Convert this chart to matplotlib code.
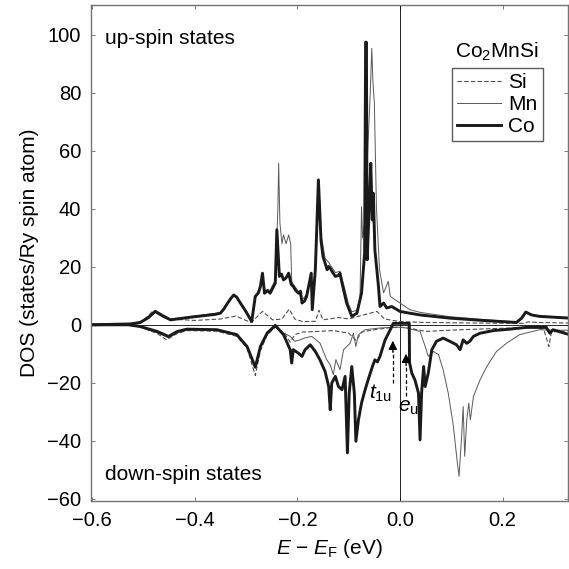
import numpy as np
import matplotlib as mpl
mpl.use('Agg')
from matplotlib import pyplot as plt

#------------------ FONT_setup ----------------------
plt.rcParams['font.family'] = ['Liberation Sans', 'DejaVu Sans']
plt.rcParams['mathtext.fontset'] = 'custom'
plt.rcParams['mathtext.rm'] = 'Liberation Sans'
plt.rcParams['mathtext.it'] = 'Liberation Sans:italic'
fs = 15

#------------------- Data (E - EF in eV, DOS) ----------------------
co_up = [(-0.60, 0), (-0.525, 0.3), (-0.506, 0.8), (-0.490, 2.5), (-0.477, 4.6), (-0.462, 3.0),
         (-0.447, 1.7), (-0.409, 2.6), (-0.380, 3.2), (-0.360, 3.6), (-0.350, 4.0), (-0.343, 5.5),
         (-0.337, 7.2), (-0.330, 9.0), (-0.324, 10.3), (-0.318, 9.5), (-0.315, 8.6), (-0.300, 4.5),
         (-0.289, 1.1), (-0.282, 9.8), (-0.276, 11.0), (-0.272, 13.2), (-0.268, 17.8), (-0.264, 10.9),
         (-0.258, 11.8), (-0.253, 10.9), (-0.243, 14.4), (-0.240, 32.8), (-0.235, 16.7), (-0.231, 17.5),
         (-0.227, 15.5), (-0.222, 16.2), (-0.217, 17.8), (-0.212, 14.0), (-0.208, 13.2), (-0.203, 11.8),
         (-0.198, 10.9), (-0.194, 11.6), (-0.191, 7.5), (-0.186, 8.2), (-0.182, 9.8), (-0.173, 17.8),
         (-0.171, 5.2), (-0.165, 19.0), (-0.159, 50.0), (-0.154, 29.3), (-0.150, 23.5), (-0.146, 21.3),
         (-0.142, 19.0), (-0.139, 20.1), (-0.136, 19.5), (-0.131, 18.0), (-0.126, 16.7), (-0.120, 17.0),
         (-0.117, 17.8), (-0.113, 14.4), (-0.104, 7.5), (-0.094, 2.9), (-0.084, 4.0), (-0.075, 10.9),
         (-0.069, 24.7), (-0.067, 97.5), (-0.0655, 97.5), (-0.064, 22.4), (-0.060, 40.8), (-0.057, 55.7),
         (-0.054, 36.2), (-0.052, 45.4), (-0.049, 25.9), (-0.042, 13.2), (-0.039, 6.3), (-0.032, 7.5),
         (-0.026, 5.8), (-0.016, 6.3), (0.0, 4.6), (0.019, 4.0), (0.039, 3.4), (0.097, 2.3),
         (0.162, 1.5), (0.227, 0.8), (0.237, 2.3), (0.245, 4.4), (0.256, 3.4), (0.272, 2.9),
         (0.33, 2.3)]

mn_up = [(-0.60, 0), (-0.525, 0.3), (-0.506, 1.0), (-0.490, 3.0), (-0.477, 5.0), (-0.462, 3.5),
         (-0.447, 2.0), (-0.409, 2.8), (-0.350, 4.2), (-0.337, 7.4), (-0.324, 10.5), (-0.315, 8.8),
         (-0.300, 4.8), (-0.289, 1.5), (-0.282, 9.0), (-0.272, 13.5), (-0.268, 16.5), (-0.264, 12.0),
         (-0.253, 12.0), (-0.243, 15.5), (-0.238, 40.0), (-0.2365, 55.7), (-0.234, 35.0), (-0.230, 28.0),
         (-0.227, 31.0), (-0.222, 28.0), (-0.217, 31.0), (-0.213, 28.0), (-0.211, 15.0), (-0.208, 14.0),
         (-0.198, 11.5), (-0.191, 8.5), (-0.182, 10.5), (-0.173, 18.0), (-0.171, 7.0), (-0.165, 19.5),
         (-0.159, 48.0), (-0.154, 31.0), (-0.146, 23.0), (-0.139, 21.5), (-0.126, 18.0), (-0.117, 18.5),
         (-0.110, 14.0), (-0.100, 7.0), (-0.094, 4.5), (-0.084, 5.0), (-0.078, 9.0), (-0.075, 40.8),
         (-0.073, 30.0), (-0.069, 35.0), (-0.063, 60.0), (-0.058, 80.0), (-0.055, 95.4), (-0.053, 84.5),
         (-0.050, 76.5), (-0.046, 40.8), (-0.040, 19.0), (-0.032, 11.0), (-0.023, 15.0), (-0.019, 9.8),
         (0.0, 7.5), (0.019, 5.2), (0.039, 4.3), (0.097, 2.8), (0.162, 1.8), (0.227, 1.0),
         (0.237, 2.5), (0.245, 4.6), (0.256, 3.6), (0.272, 3.1), (0.33, 2.5)]

si_up = [(-0.60, 0), (-0.52, 0.3), (-0.50, 1.5), (-0.48, 5.0), (-0.465, 3.5), (-0.45, 2.0),
         (-0.40, 1.5), (-0.35, 2.0), (-0.32, 3.0), (-0.30, 1.5), (-0.29, 0.8), (-0.268, 4.6),
         (-0.248, 1.7), (-0.23, 2.0), (-0.216, 5.4), (-0.205, 2.0), (-0.19, 1.1), (-0.165, 1.2),
         (-0.158, 5.0), (-0.15, 1.7), (-0.12, 2.5), (-0.10, 2.0), (-0.08, 3.0), (-0.045, 4.6),
         (-0.03, 2.0), (0.0, 1.1), (0.05, 0.8), (0.15, 0.6), (0.24, 0.5), (0.25, 1.0),
         (0.27, 0.8), (0.33, 0.6)]

co_dn = [(-0.60, 0), (-0.53, 0), (-0.506, -0.6), (-0.473, -2.3), (-0.451, -4.0), (-0.434, -2.3),
         (-0.415, -1.5), (-0.357, -1.7), (-0.318, -3.4), (-0.298, -7.5), (-0.282, -14.6), (-0.272, -7.5),
         (-0.259, -2.9), (-0.243, -0.2), (-0.227, -3.4), (-0.214, -8.6), (-0.211, -13.2), (-0.208, -8.6),
         (-0.198, -9.8), (-0.191, -10.9), (-0.185, -8.6), (-0.175, -6.9), (-0.165, -9.2), (-0.156, -12.1),
         (-0.146, -16.1), (-0.139, -21.3), (-0.136, -29.3), (-0.133, -20.1), (-0.126, -17.8), (-0.120, -21.3),
         (-0.113, -22.4), (-0.107, -17.8), (-0.1025, -44.2), (-0.099, -23.6), (-0.094, -14.4), (-0.089, -23.6),
         (-0.086, -40.2), (-0.081, -32.8), (-0.075, -27.0), (-0.068, -22.4), (-0.063, -19.5), (-0.058, -16.7),
         (-0.053, -14.0), (-0.049, -12.1), (-0.044, -12.8), (-0.039, -10.9), (-0.034, -8.0), (-0.029, -5.2),
         (-0.019, -1.7), (-0.013, 0.5), (0.018, 0.5), (0.0185, -13.0), (0.023, -16.7), (0.029, -19.0),
         (0.036, -23.6), (0.039, -39.7), (0.042, -23.6), (0.046, -14.4), (0.049, -21.3), (0.055, -16.7),
         (0.062, -8.6), (0.071, -5.7), (0.084, -4.6), (0.097, -5.7), (0.110, -6.9), (0.117, -8.6),
         (0.123, -5.2), (0.130, -6.4), (0.136, -5.7), (0.143, -4.0), (0.156, -2.9), (0.182, -2.0),
         (0.214, -1.5), (0.246, -0.9), (0.285, -0.9), (0.292, -2.9), (0.298, -1.7), (0.33, -3.4)]

mn_dn = [(-0.60, 0), (-0.53, 0), (-0.506, -0.8), (-0.473, -2.8), (-0.451, -4.5), (-0.434, -2.8),
         (-0.415, -1.8), (-0.357, -1.9), (-0.318, -3.6), (-0.298, -7.5), (-0.282, -15.0), (-0.272, -8.0),
         (-0.259, -3.2), (-0.243, -0.6), (-0.230, -2.5), (-0.214, -4.0), (-0.205, -5.7), (-0.195, -5.2),
         (-0.185, -4.5), (-0.172, -4.0), (-0.156, -6.3), (-0.143, -12.0), (-0.136, -13.8), (-0.130, -17.2),
         (-0.125, -12.0), (-0.117, -15.5), (-0.110, -8.6), (-0.097, -6.3), (-0.091, -2.9), (-0.086, -7.5),
         (-0.081, -3.4), (-0.068, -1.7), (-0.039, -1.1), (-0.007, -0.8), (0.013, -1.1), (0.026, -1.7),
         (0.039, -2.3), (0.049, -7.5), (0.055, -10.9), (0.065, -9.2), (0.075, -10.3), (0.084, -15.5),
         (0.094, -23.6), (0.104, -35.0), (0.111, -46.6), (0.115, -52.3), (0.120, -38.5), (0.123, -28.2),
         (0.126, -45.4), (0.130, -32.8), (0.134, -27.0), (0.137, -32.8), (0.143, -24.7), (0.156, -19.0),
         (0.169, -14.4), (0.188, -9.2), (0.208, -6.3), (0.233, -3.4), (0.272, -1.7), (0.292, -1.8),
         (0.33, -1.9)]

si_dn = [(-0.60, 0), (-0.53, 0), (-0.506, -0.8), (-0.473, -3.0), (-0.455, -5.2), (-0.434, -3.0),
         (-0.415, -2.0), (-0.357, -2.2), (-0.318, -4.0), (-0.298, -8.0), (-0.282, -17.5), (-0.272, -9.0),
         (-0.259, -3.5), (-0.243, -0.8), (-0.225, -3.0), (-0.214, -6.0), (-0.205, -3.4), (-0.19, -2.5),
         (-0.16, -2.3), (-0.13, -2.0), (-0.10, -2.9), (-0.085, -5.5), (-0.075, -2.5), (-0.05, -1.7),
         (-0.02, -1.0), (0.0, -0.8), (0.02, -1.2), (0.05, -2.3), (0.08, -2.0), (0.12, -1.7),
         (0.20, -1.2), (0.26, -0.9), (0.28, -1.5), (0.29, -7.5), (0.295, -2.5), (0.33, -2.0)]

#--------------------- PLOTs ------------------------
fig = plt.figure(figsize=(5.69, 5.69), dpi=100)
axe = fig.add_axes([0.160, 0.1195, 0.838, 0.8715])
axe.axhline(0, color='black', linewidth=0.6)
axe.axvline(0, color='black', linewidth=0.6)

def draw(data, **kw):
    d = np.array(data)
    return axe.plot(d[:, 0], d[:, 1], **kw)

si_kw = dict(color='0.3', linewidth=0.8, linestyle=(0, (4, 2)))
mn_kw = dict(color='0.35', linewidth=0.7)
co_kw = dict(color='0.1', linewidth=2.1)
draw(si_up, label='Si', **si_kw)
draw(si_dn, **si_kw)
draw(mn_up, label='Mn', **mn_kw)
draw(mn_dn, **mn_kw)
draw(co_up, label='Co', **co_kw)
draw(co_dn, **co_kw)

# arrows for t1u and eu
for xa, y0, y1 in [(-0.014, -20.0, -5.5), (0.0117, -24.7, -10.0)]:
    axe.plot([xa, xa], [y0, y1 - 3.5], color='black', linewidth=0.9, linestyle=(0, (3, 2)))
    axe.annotate('', xy=(xa, y1), xytext=(xa, y1 - 4.0),
                 arrowprops=dict(arrowstyle='-|>', color='black', lw=0.9,
                                 mutation_scale=13, shrinkA=0, shrinkB=0))
axe.text(-0.016, -23.5, r'$t_{\mathrm{1u}}$', fontsize=fs, ha='right', va='center')
axe.text(0.016, -28.5, r'$e_{\mathrm{u}}$', fontsize=fs, ha='center', va='center')

axe.text(0.029, 0.933, 'up-spin states', transform=axe.transAxes, fontsize=fs, va='center')
axe.text(0.029, 0.054, 'down-spin states', transform=axe.transAxes, fontsize=fs, va='center')
axe.text(0.851, 0.905, r'Co$_2$MnSi', transform=axe.transAxes, fontsize=fs, ha='center', va='center')

leg = axe.legend(loc='upper left', bbox_to_anchor=(0.757, 0.874), fontsize=fs,
                 frameon=True, fancybox=False, handlelength=2.1, handletextpad=0.35,
                 labelspacing=0.15, borderpad=0.25, borderaxespad=0)
leg.get_frame().set_edgecolor('0.2')
leg.get_frame().set_linewidth(1.0)

axe.set_xlim(-0.602, 0.327)
axe.set_ylim(-60.8, 110.3)
axe.set_xticks([-0.6, -0.4, -0.2, 0.0, 0.2])
axe.set_xticklabels(['\u22120.6', '\u22120.4', '\u22120.2', '0.0', '0.2'])
axe.set_yticks(np.arange(-60, 101, 20))
axe.tick_params(direction='in', top=True, right=True, length=3, width=0.6,
                color='0.4', labelsize=14.5, pad=7)
for s in axe.spines.values():
    s.set_color('0.45')
    s.set_linewidth(1.0)
axe.set_xlabel(r'$E$ $-$ $E_{\mathrm{F}}$ (eV)', fontsize=fs, labelpad=5)
axe.set_ylabel('DOS (states/Ry spin atom)', fontsize=fs, labelpad=6)

plt.savefig('out.png', dpi=100)
